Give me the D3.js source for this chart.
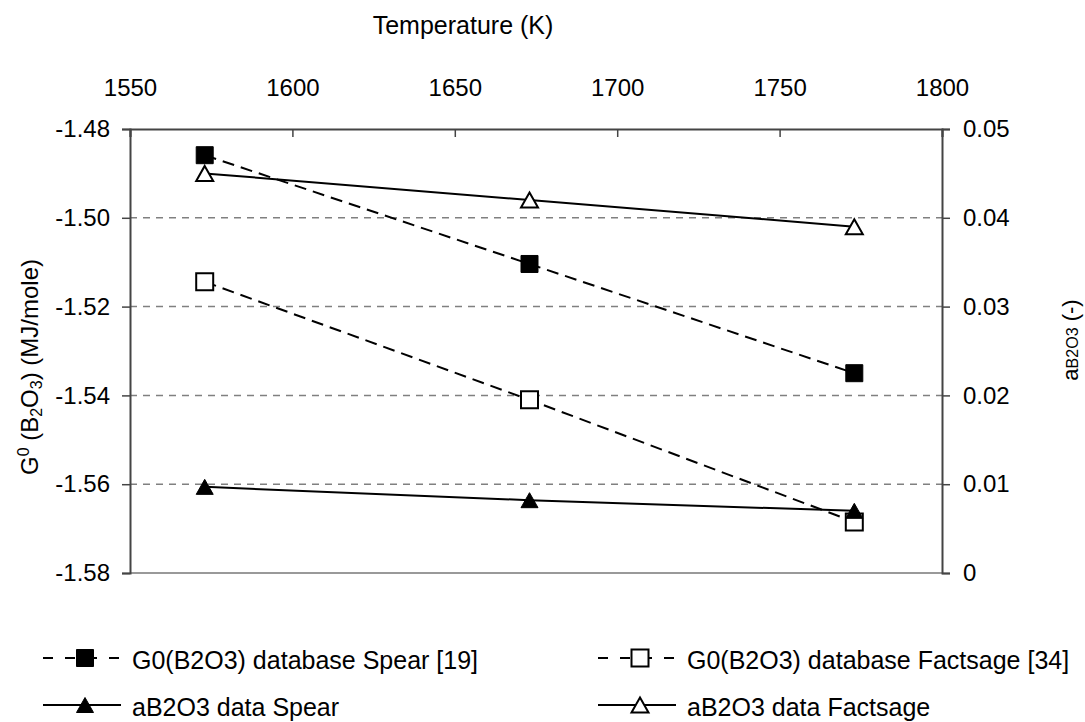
<!DOCTYPE html>
<html>
  <head>
    <meta charset="utf-8" />
    <title>G0 (B2O3) and aB2O3 vs temperature</title>
    <script src="https://d3js.org/d3.v7.min.js"></script>
    <style>
      body { margin: 0; background: #fff; }
      svg text { font-family: "Liberation Sans", Arial, sans-serif; fill: #000; }
    </style>
  </head>
  <body>
    <svg id="chart" width="1085" height="722"></svg>

    <script>
      // Datos
      const temps = [1573, 1673, 1773];
      const g0Spear = [-1.4859, -1.5104, -1.535];
      const g0Factsage = [-1.5144, -1.541, -1.5685];
      const aSpear = [0.0097, 0.0082, 0.007];
      const aFactsage = [0.045, 0.042, 0.039];

      const xTicks = [1550, 1600, 1650, 1700, 1750, 1800];
      const leftTicks = [-1.48, -1.5, -1.52, -1.54, -1.56, -1.58];
      const rightTicks = [0.05, 0.04, 0.03, 0.02, 0.01, 0];

      const legendLabels = [
        "G0(B2O3) database Spear [19]",
        "G0(B2O3) database Factsage [34]",
        "aB2O3 data Spear",
        "aB2O3 data Factsage",
      ];

      const svg = d3.select("#chart");
      const plotL = 130, plotR = 942, plotT = 129, plotB = 573;

      // Escalas
      const x = d3.scaleLinear().domain([1550, 1800]).range([plotL, plotR]);
      const yL = d3.scaleLinear().domain([-1.58, -1.48]).range([plotB, plotT]);
      const yR = d3.scaleLinear().domain([0, 0.05]).range([plotB, plotT]);

      // Líneas de cuadrícula
      svg
        .append("g")
        .selectAll("line")
        .data(leftTicks.slice(1, -1))
        .enter()
        .append("line")
        .attr("x1", plotL)
        .attr("x2", plotR)
        .attr("y1", (d) => yL(d))
        .attr("y2", (d) => yL(d))
        .style("stroke", "#808080")
        .style("stroke-width", 1.5)
        .style("stroke-dasharray", "7,6");

      // borde inferior
      svg
        .append("line")
        .attr("x1", plotL)
        .attr("x2", plotR)
        .attr("y1", plotB)
        .attr("y2", plotB)
        .style("stroke", "#999")
        .style("stroke-width", 2);

      // Ejes
      const xAxis = svg
        .append("g")
        .attr("transform", `translate(0,${plotT})`)
        .call(d3.axisTop(x).tickValues(xTicks).tickSize(-8).tickPadding(32).tickFormat(d3.format("d")));
      const yAxisL = svg
        .append("g")
        .attr("transform", `translate(${plotL},0)`)
        .call(d3.axisLeft(yL).tickValues(leftTicks).tickSize(8).tickPadding(12).tickFormat((d) => d.toFixed(2)));
      const yAxisR = svg
        .append("g")
        .attr("transform", `translate(${plotR},0)`)
        .call(
          d3.axisRight(yR).tickValues(rightTicks).tickSize(8).tickPadding(13)
            .tickFormat((d) => (d === 0 ? "0" : d.toFixed(2)))
        );

      [xAxis, yAxisL, yAxisR].forEach((a) => {
        a.select(".domain").style("stroke", "#444").style("stroke-width", 2);
        a.selectAll(".tick line").style("stroke", "#444").style("stroke-width", 1.5);
        a.selectAll(".tick text")
          .style("font-size", "24px")
          .style("font-family", '"Liberation Sans", Arial, sans-serif')
          .attr("fill", "#000");
      });
      xAxis.selectAll(".tick text").attr("dy", "0.35em").attr("y", -(plotT - 88));

      // Títulos de ejes
      svg
        .append("text")
        .attr("x", 463)
        .attr("y", 25)
        .attr("dy", "0.35em")
        .attr("text-anchor", "middle")
        .style("font-size", "25px")
        .text("Temperature (K)");

      const yTitle = svg
        .append("text")
        .attr("transform", "translate(30,367) rotate(-90)")
        .attr("dy", "0.35em")
        .attr("text-anchor", "middle")
        .style("font-size", "24px");
      yTitle.append("tspan").text("G");
      yTitle.append("tspan").attr("dy", -9).style("font-size", "16px").text("0");
      yTitle.append("tspan").attr("dy", 9).text(" (B");
      yTitle.append("tspan").attr("dy", 4).style("font-size", "16px").text("2");
      yTitle.append("tspan").attr("dy", -4).text("O");
      yTitle.append("tspan").attr("dy", 4).style("font-size", "16px").text("3");
      yTitle.append("tspan").attr("dy", -4).text(") (MJ/mole)");

      const y2Title = svg
        .append("text")
        .attr("transform", "translate(1070,340) rotate(-90)")
        .attr("dy", "0.35em")
        .attr("text-anchor", "middle")
        .style("font-size", "22px");
      y2Title.append("tspan").text("a");
      y2Title.append("tspan").style("font-size", "16px").text("B2O3");
      y2Title.append("tspan").text(" (-)");

      // Series
      const series = [
        { vals: g0Spear, y: yL, dash: "12,7", marker: "square", fill: "#000" },
        { vals: g0Factsage, y: yL, dash: "12,7", marker: "square", fill: "#fff" },
        { vals: aSpear, y: yR, dash: null, marker: "triangle", fill: "#000" },
        { vals: aFactsage, y: yR, dash: null, marker: "triangle", fill: "#fff" },
      ];

      const markerPath = (type) =>
        type === "square"
          ? "M-8.5,-8.5H8.5V8.5H-8.5Z"
          : "M0,-7.5L8.5,7.5L-8.5,7.5Z";

      const lineGen = (yScale) =>
        d3.line().x((d) => x(d[0])).y((d) => yScale(d[1]));

      series.forEach((s) => {
        const pts = temps.map((t, i) => [t, s.vals[i]]);
        svg
          .append("path")
          .datum(pts)
          .attr("d", lineGen(s.y))
          .style("fill", "none")
          .style("stroke", "#000")
          .style("stroke-width", 2)
          .style("stroke-dasharray", s.dash);
      });

      series.forEach((s) => {
        const pts = temps.map((t, i) => [t, s.vals[i]]);
        svg
          .append("g")
          .selectAll("path")
          .data(pts)
          .enter()
          .append("path")
          .attr("transform", (d) => `translate(${x(d[0])},${s.y(d[1])})`)
          .attr("d", markerPath(s.marker))
          .style("fill", s.fill)
          .style("stroke", "#000")
          .style("stroke-width", s.fill === "#000" ? 1 : 2);
      });

      // Leyenda
      const legendPos = [
        [43, 658],
        [598, 658],
        [43, 705],
        [598, 705],
      ];
      series.forEach((s, i) => {
        const [lx, ly] = legendPos[i];
        const g = svg.append("g").attr("transform", `translate(${lx},${ly})`);
        g.append("line")
          .attr("x1", 0)
          .attr("x2", 78)
          .attr("y1", 0)
          .attr("y2", 0)
          .style("stroke", "#000")
          .style("stroke-width", 2)
          .style("stroke-dasharray", s.dash ? "10,12" : null);
        g.append("path")
          .attr("transform", "translate(42,0)")
          .attr("d", markerPath(s.marker))
          .style("fill", s.fill)
          .style("stroke", "#000")
          .style("stroke-width", s.fill === "#000" ? 1 : 2);
        g.append("text")
          .attr("x", 89)
          .attr("y", 2)
          .attr("dy", "0.35em")
          .style("font-size", "25px")
          .text(legendLabels[i]);
      });
    </script>
  </body>
</html>
